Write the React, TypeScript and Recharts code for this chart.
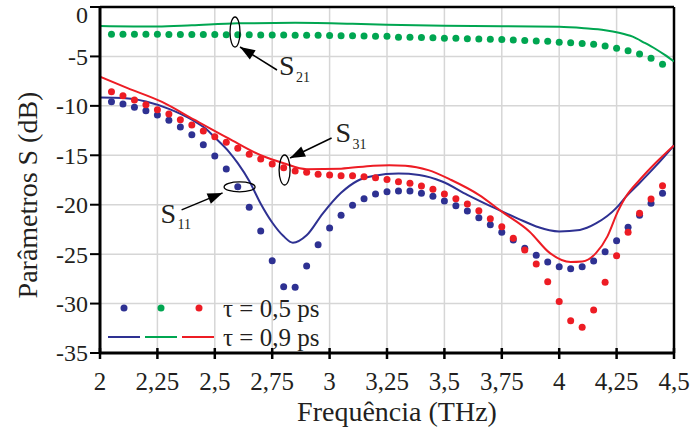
import React from 'react';
import {
  ComposedChart, Line, Scatter, XAxis, YAxis, CartesianGrid,
  ReferenceLine, ReferenceDot, Legend,
} from 'recharts';

// ---------- data ----------
const dotFreq = [
  2.05, 2.1, 2.15, 2.2, 2.25, 2.3, 2.35, 2.4, 2.45, 2.5,
  2.55, 2.6, 2.65, 2.7, 2.75, 2.8, 2.85, 2.9, 2.95, 3.0,
  3.05, 3.1, 3.15, 3.2, 3.25, 3.3, 3.35, 3.4, 3.45, 3.5,
  3.55, 3.6, 3.65, 3.7, 3.75, 3.8, 3.85, 3.9, 3.95, 4.0,
  4.05, 4.1, 4.15, 4.2, 4.25, 4.3, 4.35, 4.4, 4.45,
];

// tau = 0.5 ps (dots)
const s21Dots = [
  -2.75, -2.75, -2.75, -2.75, -2.75, -2.77, -2.77, -2.77, -2.78, -2.78,
  -2.8, -2.8, -2.8, -2.82, -2.82, -2.84, -2.85, -2.86, -2.87, -2.88,
  -2.9, -2.92, -2.93, -2.95, -2.97, -3.05, -3.07, -3.08, -3.1, -3.15,
  -3.17, -3.22, -3.24, -3.27, -3.29, -3.34, -3.4, -3.43, -3.46, -3.56,
  -3.61, -3.68, -3.78, -3.95, -4.18, -4.42, -4.75, -5.19, -5.8,
];
const s11Dots = [
  -9.58, -9.81, -10.15, -10.49, -10.92, -11.46, -12.14, -12.92, -13.93, -15.07,
  -16.39, -18.18, -20.26, -22.66, -25.66, -28.29, -28.36, -26.2, -24.04, -22.35,
  -21.07, -20.06, -19.39, -18.92, -18.7, -18.61, -18.61, -18.85, -19.15, -19.62,
  -20.1, -20.64, -21.31, -22.02, -22.79, -23.57, -24.41, -25.12, -25.8, -26.27,
  -26.47, -26.27, -25.69, -24.75, -23.64, -22.28, -21.07, -19.86, -18.85,
];
const s31Dots = [
  -8.57, -8.97, -9.41, -9.88, -10.39, -10.82, -11.4, -11.94, -12.54, -13.12,
  -13.69, -14.29, -14.9, -15.38, -15.88, -16.25, -16.59, -16.72, -16.92, -16.99,
  -17.06, -17.06, -17.16, -17.27, -17.46, -17.67, -17.84, -18.1, -18.44, -18.92,
  -19.39, -19.93, -20.6, -21.41, -22.22, -23.4, -24.58, -26.0, -27.78, -29.8,
  -31.73, -32.4, -30.65, -27.85, -25.15, -22.79, -20.87, -19.42, -18.08,
];

// tau = 0.9 ps (lines)
const s21LineFreq = [2.0, 2.25, 2.4, 2.6, 2.85, 3.1, 3.25, 3.5, 3.75, 4.0, 4.11, 4.2, 4.26, 4.32, 4.37, 4.42, 4.46, 4.5];
const s21LineVal = [-1.92, -1.98, -1.85, -1.65, -1.6, -1.7, -1.8, -1.9, -1.95, -2.0, -2.15, -2.35, -2.6, -3.0, -3.6, -4.25, -4.85, -5.5];

const s11LineFreq = [2.0, 2.1, 2.2, 2.3, 2.4, 2.46, 2.5, 2.56, 2.6, 2.65, 2.7, 2.75, 2.8, 2.84, 2.9, 2.97, 3.05, 3.12, 3.19, 3.3, 3.39, 3.49, 3.6, 3.72, 3.82, 3.9, 4.0, 4.09, 4.16, 4.25, 4.29, 4.35, 4.42, 4.5];
const s11LineVal = [-9.15, -9.2, -9.55, -10.3, -11.4, -12.3, -13.2, -14.6, -15.8, -17.6, -19.9, -21.8, -23.2, -23.85, -23.1, -20.9, -18.8, -17.6, -17.1, -16.85, -17.0, -17.65, -19.0, -20.35, -21.4, -22.2, -22.7, -22.55, -21.9, -20.3, -19.2, -17.8, -16.1, -14.0];

const s31LineFreq = [2.0, 2.12, 2.27, 2.41, 2.56, 2.7, 2.8, 2.9, 3.05, 3.19, 3.26, 3.33, 3.43, 3.53, 3.65, 3.75, 3.87, 3.96, 4.05, 4.1, 4.16, 4.21, 4.255, 4.29, 4.35, 4.425, 4.5];
const s31LineVal = [-7.05, -8.2, -9.6, -11.4, -13.3, -15.0, -15.8, -16.4, -16.35, -16.05, -16.0, -16.05, -16.5, -17.5, -19.0, -20.7, -22.7, -24.9, -25.8, -25.75, -24.9, -23.2, -20.7, -19.2, -17.5, -15.65, -14.0];

const xTicks = [2, 2.25, 2.5, 2.75, 3, 3.25, 3.5, 3.75, 4, 4.25, 4.5];
const xTickLabels = ['2', '2,25', '2,5', '2,75', '3', '3,25', '3,5', '3,75', '4', '4,25', '4,5'];
const yTicks = [-35, -30, -25, -20, -15, -10, -5, 0];
const yTickLabels = ['-35', '-30', '-25', '-20', '-15', '-10', '-5', '0'];

const legendLabels = ['τ = 0,5 ps', 'τ = 0,9 ps'];
const annotations = [
  { name: 'S', sub: '21', f: 2.588, v: -2.53 },
  { name: 'S', sub: '31', f: 2.804, v: -16.49 },
  { name: 'S', sub: '11', f: 2.608, v: -18.2 },
];

// ---------- styling ----------
const BLUE = '#2e3192';
const GREEN = '#00a651';
const RED = '#ed1c24';
const INK = '#231f20';
const FONT = '"Liberation Serif", "Times New Roman", serif';

const toPts = (fs: number[], vs: number[]) => fs.map((f, i) => ({ f, y: vs[i] }));

const XTick = (props: any) => {
  const { x, y, payload } = props;
  const idx = xTicks.indexOf(payload.value);
  return (
    <g>
      <line x1={x} x2={x} y1={y - 5} y2={y + 6} stroke="#000" strokeWidth={2.5} />
      <text x={x} y={y + 37} textAnchor="middle" fontFamily={FONT} fontSize={25} fill={INK}>
        {xTickLabels[idx]}
      </text>
    </g>
  );
};

const YTick = (props: any) => {
  const { x, y, payload } = props;
  const idx = yTicks.indexOf(payload.value);
  const shift = payload.value === 0 ? 8 : 0;
  return (
    <text x={x} y={y + shift} dy="0.35em" textAnchor="end" fontFamily={FONT} fontSize={24} fill={INK}>
      {yTickLabels[idx]}
    </text>
  );
};

const arrowHead = (tx: number, ty: number, hx: number, hy: number) => {
  const dx = hx - tx;
  const dy = hy - ty;
  const len = Math.sqrt(dx * dx + dy * dy);
  const ux = dx / len;
  const uy = dy / len;
  const L = 15;
  const W = 5.5;
  const bx = hx - ux * L;
  const by = hy - uy * L;
  return `${hx},${hy} ${bx - uy * W},${by + ux * W} ${bx + uy * W},${by - ux * W}`;
};

const makeAnnotation = (kind: number) => (props: any) => {
  const { cx, cy } = props;
  const a = annotations[kind];
  let ell, tail, tip, sPos, subPos;
  if (kind === 0) {
    ell = { rx: 5, ry: 15 };
    tail = [cx + 42, cy + 38];
    tip = [cx + 5, cy + 15];
    sPos = [cx + 44, cy + 43];
    subPos = [cx + 61, cy + 50];
  } else if (kind === 1) {
    ell = { rx: 5.5, ry: 15 };
    tail = [cx + 47, cy - 32];
    tip = [cx + 5.5, cy - 12];
    sPos = [cx + 51, cy - 28];
    subPos = [cx + 68, cy - 21];
  } else {
    ell = { rx: 15.5, ry: 5 };
    tail = [cx - 58, cy + 23];
    tip = [cx - 17, cy + 6];
    sPos = [cx - 79, cy + 36];
    subPos = [cx - 62, cy + 42];
  }
  return (
    <g>
      <ellipse cx={cx} cy={cy} rx={ell.rx} ry={ell.ry} fill="none" stroke="#000" strokeWidth={1.3} />
      <line x1={tail[0]} y1={tail[1]} x2={tip[0]} y2={tip[1]} stroke="#000" strokeWidth={1.5} />
      <polygon points={arrowHead(tail[0], tail[1], tip[0], tip[1])} fill="#000" />
      <text x={sPos[0]} y={sPos[1]} fontFamily={FONT} fontSize={28} fill={INK}>{a.name}</text>
      <text x={subPos[0]} y={subPos[1]} fontFamily={FONT} fontSize={14} fill={INK}>{a.sub}</text>
    </g>
  );
};

const LegendBox = () => (
  <svg width={240} height={64} style={{ display: 'block' }}>
    <circle cx={24} cy={18} r={3.5} fill={BLUE} />
    <circle cx={61} cy={18} r={3.5} fill={GREEN} />
    <circle cx={99} cy={18} r={3.5} fill={RED} />
    <text x={123} y={27} fontFamily={FONT} fontSize={25} fill={INK}>{legendLabels[0]}</text>
    <line x1={8} x2={40} y1={47} y2={47} stroke={BLUE} strokeWidth={2} />
    <line x1={45} x2={77} y1={47} y2={47} stroke={GREEN} strokeWidth={2} />
    <line x1={82} x2={114} y1={47} y2={47} stroke={RED} strokeWidth={2} />
    <text x={123} y={56} fontFamily={FONT} fontSize={25} fill={INK}>{legendLabels[1]}</text>
  </svg>
);

const dotShape = (color: string) => (p: any) => <circle cx={p.cx} cy={p.cy} r={3.5} fill={color} />;

export default function App() {
  return (
    <div style={{ position: 'absolute', left: 0, top: 0, width: 691, height: 434, background: '#fff' }}>
      <ComposedChart width={691} height={434} margin={{ top: 7, right: 17, left: 0, bottom: 0 }}>
        <CartesianGrid stroke="#d6d6d6" strokeWidth={1.5} />
        <XAxis
          type="number"
          dataKey="f"
          domain={[2, 4.5]}
          ticks={xTicks}
          interval={0}
          allowDataOverflow
          height={81}
          tickSize={0}
          tickMargin={0}
          tickLine={false}
          tick={<XTick />}
          axisLine={{ stroke: '#000', strokeWidth: 3 }}
          label={(props: any) => {
            const vb = props.viewBox;
            return (
              <text x={vb.x + vb.width / 2 + 10} y={vb.y + 68} textAnchor="middle" fontFamily={FONT} fontSize={28} fill={INK}>
                Frequência (THz)
              </text>
            );
          }}
        />
        <YAxis
          type="number"
          dataKey="y"
          domain={[-35, 0]}
          ticks={yTicks}
          interval={0}
          allowDataOverflow
          width={100}
          tickSize={10}
          tickMargin={2}
          tickLine={{ stroke: '#000', strokeWidth: 2 }}
          tick={<YTick />}
          axisLine={{ stroke: '#000', strokeWidth: 3 }}
          label={(props: any) => {
            const vb = props.viewBox;
            const cx = 27;
            const cy = vb.y + 188;
            return (
              <text x={cx} y={cy} transform={`rotate(-90 ${cx} ${cy})`} dy="0.35em" textAnchor="middle" fontFamily={FONT} fontSize={28} fill={INK}>
                Parâmetros S (dB)
              </text>
            );
          }}
        />
        <ReferenceLine y={0} stroke="#000" strokeWidth={2.5} />
        <ReferenceLine x={4.5} stroke="#000" strokeWidth={2.5} />

        <Scatter name="S21 0,5" data={toPts(dotFreq, s21Dots)} dataKey="y" fill={GREEN} shape={dotShape(GREEN)} isAnimationActive={false} />
        <Scatter name="S11 0,5" data={toPts(dotFreq, s11Dots)} dataKey="y" fill={BLUE} shape={dotShape(BLUE)} isAnimationActive={false} />
        <Scatter name="S31 0,5" data={toPts(dotFreq, s31Dots)} dataKey="y" fill={RED} shape={dotShape(RED)} isAnimationActive={false} />

        <Line name="S21 0,9" data={toPts(s21LineFreq, s21LineVal)} dataKey="y" type="monotone" stroke={GREEN} strokeWidth={2} dot={false} isAnimationActive={false} />
        <Line name="S11 0,9" data={toPts(s11LineFreq, s11LineVal)} dataKey="y" type="monotone" stroke={BLUE} strokeWidth={2} dot={false} isAnimationActive={false} />
        <Line name="S31 0,9" data={toPts(s31LineFreq, s31LineVal)} dataKey="y" type="monotone" stroke={RED} strokeWidth={2} dot={false} isAnimationActive={false} />

        <ReferenceDot x={annotations[0].f} y={annotations[0].v} shape={makeAnnotation(0)} />
        <ReferenceDot x={annotations[1].f} y={annotations[1].v} shape={makeAnnotation(1)} />
        <ReferenceDot x={annotations[2].f} y={annotations[2].v} shape={makeAnnotation(2)} />

        <Legend
          layout="horizontal"
          verticalAlign="middle"
          align="center"
          content={() => <LegendBox />}
          wrapperStyle={{ position: 'absolute', left: 100, top: 290, width: 240, height: 64 }}
        />
      </ComposedChart>
    </div>
  );
}
